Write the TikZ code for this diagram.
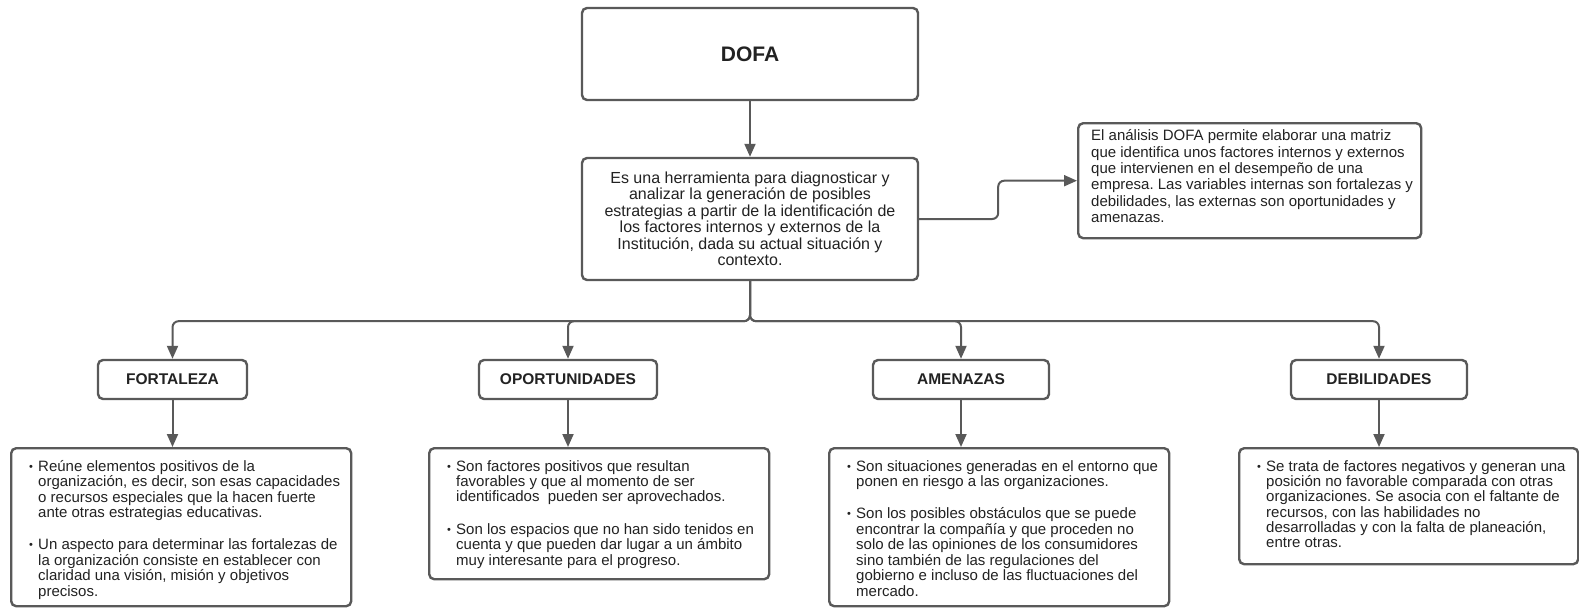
\documentclass[tikz,border=0pt]{standalone}
\usepackage{fontspec}
\setmainfont{Liberation Sans}
\usetikzlibrary{arrows.meta}
\definecolor{linea}{HTML}{595959}
\definecolor{letra}{HTML}{222222}
\frenchspacing
\newcommand{\vineta}{\raisebox{1pt}{\fontsize{11}{11}\selectfont\textbullet}}
\newcommand{\cuadro}[3]{\parbox[c][#1][t]{#2}{\begin{tabular}{@{}p{9pt}@{}l@{}}#3\end{tabular}}}
\newcommand{\bloque}[3]{\parbox[c][#1][t]{#2}{\begin{tabular}{@{}l@{}}#3\end{tabular}}}

\begin{document}
\begin{tikzpicture}[x=1pt,y=-1pt]
\tikzset{caja/.style={draw=linea,line width=2.4pt,rounded corners=5pt,fill=white,text=letra}}
\tikzset{titulo/.style={caja,minimum width=336pt,minimum height=92pt,font=\fontsize{21}{21}\selectfont\bfseries}}
\tikzset{descripcion/.style={caja,minimum width=336pt,minimum height=122pt,align=center,font=\fontsize{16}{16.5}\selectfont}}
\tikzset{factor/.style={caja,minimum width=176pt,minimum height=39pt,font=\fontsize{15.5}{15.5}\selectfont\bfseries}}
\tikzset{detalle/.style={caja,anchor=north west,inner xsep=18pt,inner ysep=12pt,font=\fontsize{15}{15}\selectfont}}
\tikzset{conector/.style={draw=linea,line width=2pt,rounded corners=6pt,-{Triangle[length=13pt,width=11pt]}}}
\useasboundingbox (0,0) rectangle (1579,608);

\node[titulo] (dofa) at (750,54) {DOFA};
\node[descripcion] (centro) at (750,219) {Es una herramienta para diagnosticar y\\
  analizar la generación de posibles\\
  estrategias a partir de la identificación de\\
  los factores internos y externos de la\\
  Institución, dada su actual situación y\\
  contexto.};
\node[caja,anchor=north west,inner xsep=13pt,inner ysep=6pt,font=\fontsize{15}{16.4}\selectfont] (analisis) at (1077,122)
  {\bloque{103pt}{317pt}{El análisis DOFA permite elaborar una matriz\\
  que identifica unos factores internos y externos\\
  que intervienen en el desempeño de una\\
  empresa. Las variables internas son fortalezas y\\
  debilidades, las externas son oportunidades y\\
  amenazas.}};

% factores
\node[factor,minimum width=149pt] (fortaleza) at (172.5,379.5) {FORTALEZA};
\node[factor,minimum width=178pt] (oportunidades) at (568,379.5) {OPORTUNIDADES};
\node[factor] (amenazas) at (961,379.5) {AMENAZAS};
\node[factor] (debilidades) at (1379,379.5) {DEBILIDADES};

% detalles
\node[detalle] (det-fortaleza) at (10,447) {\cuadro{134pt}{304pt}{%
  \vineta & Reúne elementos positivos de la\\
  & organización, es decir, son esas capacidades\\
  & o recursos especiales que la hacen fuerte\\
  & ante otras estrategias educativas.\\[17pt]
  \vineta & Un aspecto para determinar las fortalezas de\\
  & la organización consiste en establecer con\\
  & claridad una visión, misión y objetivos\\
  & precisos.}};
\node[detalle] (det-oportunidades) at (428,447) {\cuadro{107pt}{304pt}{%
  \vineta & Son factores positivos que resultan\\
  & favorables y que al momento de ser\\
  & identificados\ \ pueden ser aprovechados.\\[17pt]
  \vineta & Son los espacios que no han sido tenidos en\\
  & cuenta y que pueden dar lugar a un ámbito\\
  & muy interesante para el progreso.}};
\node[detalle] (det-amenazas) at (828,447) {\cuadro{134pt}{304pt}{%
  \vineta & Son situaciones generadas en el entorno que\\
  & ponen en riesgo a las organizaciones.\\[17pt]
  \vineta & Son los posibles obstáculos que se puede\\
  & encontrar la compañía y que proceden no\\
  & solo de las opiniones de los consumidores\\
  & sino también de las regulaciones del\\
  & gobierno e incluso de las fluctuaciones del\\
  & mercado.}};
\node[detalle] (det-debilidades) at (1238,447) {\cuadro{92pt}{303pt}{%
  \vineta & Se trata de factores negativos y generan una\\
  & posición no favorable comparada con otras\\
  & organizaciones. Se asocia con el faltante de\\
  & recursos, con las habilidades no\\
  & desarrolladas y con la falta de planeación,\\
  & entre otras.}};

% conectores
\draw[conector] (dofa) -- (centro);
\draw[conector] (centro.east) -- ++(79,0) |- (analisis.west);
\foreach \f in {fortaleza,oportunidades,amenazas,debilidades}{
  \draw[conector] (centro.south) -- ++(0,40) -| (\f.north);
  \draw[conector] (\f.south) -- (\f.south |- det-\f.north);
}
\end{tikzpicture}
\end{document}
